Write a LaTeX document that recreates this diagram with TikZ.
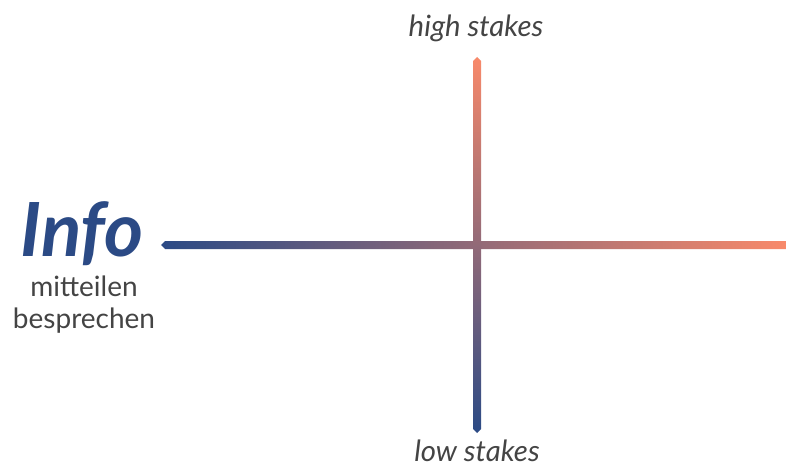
\documentclass[tikz,border=0pt]{standalone}
\usepackage{fontspec}
\setmainfont{Lato}
\usepackage{xcolor}
\definecolor{infoblue}{HTML}{2B4A85}
\definecolor{stakeorange}{HTML}{F8896A}
\definecolor{midrose}{HTML}{C07579}
\definecolor{textgray}{HTML}{444444}

\begin{document}
\begin{tikzpicture}[x=0.75pt, y=-0.75pt,
        axislabel/.style={font=\fontsize{22}{24}\selectfont\itshape, text=textgray, inner sep=0pt},
        sublabel/.style={font=\fontsize{21}{24}\selectfont, text=textgray, align=center}]
        \useasboundingbox (0,0) rectangle (786,467);

        % axes
        \coordinate (west) at (161,245);
        \coordinate (east) at (786,245);
        \coordinate (north) at (477,57);
        \coordinate (south) at (477,433);

        \shade[left color=infoblue, middle color=midrose, right color=stakeorange]
            (west) -- (165,241) -- (786,241) -- (786,249) -- (165,249) -- cycle;
        \shade[top color=stakeorange, middle color=midrose, bottom color=infoblue]
            (north) -- (481,61) -- (481,429) -- (south) -- (473,429) -- (473,61) -- cycle;

        % labels
        \node[axislabel] (high) at (476,28) {high stakes};
        \node[axislabel] (low) at (477,451) {low stakes};
        \node[font=\fontsize{56}{60}\selectfont\bfseries\itshape, text=infoblue] (info) at (82,234) {Info};
        \node[sublabel] (modes) at (84,305) {mitteilen\\besprechen};
    \end{tikzpicture}
\end{document}
